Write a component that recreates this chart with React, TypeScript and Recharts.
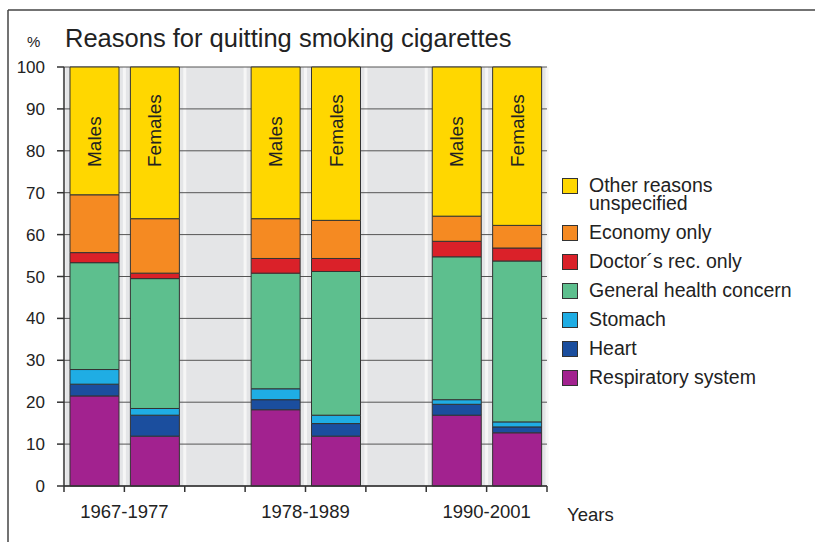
import React from 'react';
import {
  BarChart,
  Bar,
  XAxis,
  YAxis,
  CartesianGrid,
  LabelList,
} from 'recharts';

const periods = ['1967-1977', '1978-1989', '1990-2001'];
const sexes = ['Males', 'Females'];

// order: M67, F67, M78, F78, M90, F90
const respiratory = [21.5, 11.9, 18.2, 11.9, 16.9, 12.7];
const heart = [2.8, 5.0, 2.4, 3.0, 2.6, 1.4];
const stomach = [3.5, 1.6, 2.6, 2.0, 1.1, 1.2];
const general = [25.5, 31.0, 27.6, 34.3, 34.1, 38.4];
const doctor = [2.4, 1.3, 3.5, 3.1, 3.7, 3.1];
const economy = [13.8, 13.0, 9.5, 9.1, 6.0, 5.4];
const other = [30.5, 36.2, 36.2, 36.6, 35.6, 37.8];

const yTicks = [0, 10, 20, 30, 40, 50, 60, 70, 80, 90, 100];
const xTicks = [0, 1, 2, 3, 4, 5, 6, 7, 8];

const seriesDefs = [
  { key: 'respiratory', name: 'Respiratory system', color: '#A2228F' },
  { key: 'heart', name: 'Heart', color: '#1B4E9E' },
  { key: 'stomach', name: 'Stomach', color: '#1FADE4' },
  { key: 'general', name: 'General health concern', color: '#5DBF8E' },
  { key: 'doctor', name: 'Doctor\u00B4s rec. only', color: '#DA2129' },
  { key: 'economy', name: 'Economy only', color: '#F58A22' },
  { key: 'other', name: 'Other reasons unspecified', color: '#FFD700' },
];

const data = respiratory.map((_, i) => {
  const g = Math.floor(i / 2);
  const s = i % 2;
  return {
    slot: g * 3 + s + 0.5,
    sex: sexes[s],
    period: periods[g],
    respiratory: respiratory[i],
    heart: heart[i],
    stomach: stomach[i],
    general: general[i],
    doctor: doctor[i],
    economy: economy[i],
    other: other[i],
  };
});

const FONT = '"Liberation Sans", Arial, Helvetica, sans-serif';

const xTickFormatter = (v: number) => {
  if ((v - 1) % 3 === 0) {
    const idx = (v - 1) / 3;
    return periods[idx] ?? '';
  }
  return '';
};

const SexLabel = (props: any) => {
  const { x, y, width, value } = props;
  const cx = Number(x) + Number(width) / 2;
  const by = Number(y) + 100;
  return (
    <text
      x={cx}
      y={by}
      transform={`rotate(-90, ${cx}, ${by})`}
      textAnchor="start"
      dominantBaseline="central"
      fontSize={19}
      fill="#222"
      fontFamily={FONT}
    >
      {value}
    </text>
  );
};

const ChartLegend = () => {
  const items = [...seriesDefs].reverse();
  return (
    <div
      style={{
        position: 'absolute',
        left: 562,
        top: 176,
        fontFamily: FONT,
        fontSize: 19.5,
        color: '#222',
        width: 245,
      }}
    >
      {items.map((it) => (
        <div
          key={it.key}
          style={{ display: 'flex', alignItems: 'flex-start', marginBottom: 11 }}
        >
          <div
            style={{
              width: 14,
              height: 14,
              background: it.color,
              border: '1px solid #333',
              marginTop: 2,
              marginRight: 11,
              flex: '0 0 auto',
            }}
          />
          <div style={{ lineHeight: '18px', width: 212 }}>{it.name}</div>
        </div>
      ))}
    </div>
  );
};

export default function App() {
  return (
    <div
      style={{
        position: 'absolute',
        left: 0,
        top: 0,
        width: 815,
        height: 542,
        background: '#fff',
        fontFamily: FONT,
      }}
    >
      <svg
        width={815}
        height={542}
        style={{ position: 'absolute', left: 0, top: 0 }}
      >
        <line x1={8} y1={10} x2={815} y2={10} stroke="#444" strokeWidth={1.5} />
        <line x1={8} y1={10} x2={8} y2={542} stroke="#444" strokeWidth={1.5} />
        <text x={27} y={46.5} fontSize={15} fill="#222" fontFamily={FONT}>
          %
        </text>
        <text x={65} y={46.5} fontSize={25.5} fill="#222" fontFamily={FONT}>
          Reasons for quitting smoking cigarettes
        </text>
      </svg>
      <div style={{ position: 'absolute', left: 0, top: 0 }}>
        <BarChart
          width={815}
          height={542}
          data={data}
          margin={{ top: 67, right: 268, bottom: 0, left: 0 }}
        >
          <CartesianGrid
            horizontal={false}
            fill="#E4E5E7"
            stroke="#F6F6F6"
            strokeWidth={3}
          />
          <CartesianGrid vertical={false} stroke="#555" strokeWidth={1} />
          <XAxis
            dataKey="slot"
            type="number"
            domain={[0, 8]}
            ticks={xTicks}
            interval={0}
            tickFormatter={xTickFormatter}
            tickSize={6}
            tickMargin={13}
            height={56}
            axisLine={{ stroke: '#333', strokeWidth: 1.5 }}
            tickLine={{ stroke: '#333', strokeWidth: 1.5 }}
            tick={{ fill: '#222', fontSize: 18.5 }}
            label={{
              value: 'Years',
              position: 'right',
              offset: 20,
              fontSize: 18.5,
              fill: '#222',
            }}
          />
          <YAxis
            domain={[0, 100]}
            ticks={yTicks}
            interval={0}
            width={64}
            tickSize={7}
            tickMargin={12}
            axisLine={{ stroke: '#333', strokeWidth: 1.5 }}
            tickLine={{ stroke: '#333', strokeWidth: 1.5 }}
            tick={{ fill: '#222', fontSize: 17 }}
          />
          {seriesDefs.map((s) => (
            <Bar
              key={s.key}
              dataKey={s.key}
              name={s.name}
              stackId="a"
              fill={s.color}
              stroke="#333"
              strokeWidth={1}
              barSize={49}
              isAnimationActive={false}
            >
              {s.key === 'other' ? (
                <LabelList dataKey="sex" content={<SexLabel />} />
              ) : null}
            </Bar>
          ))}
        </BarChart>
      </div>
      <ChartLegend />
    </div>
  );
}
